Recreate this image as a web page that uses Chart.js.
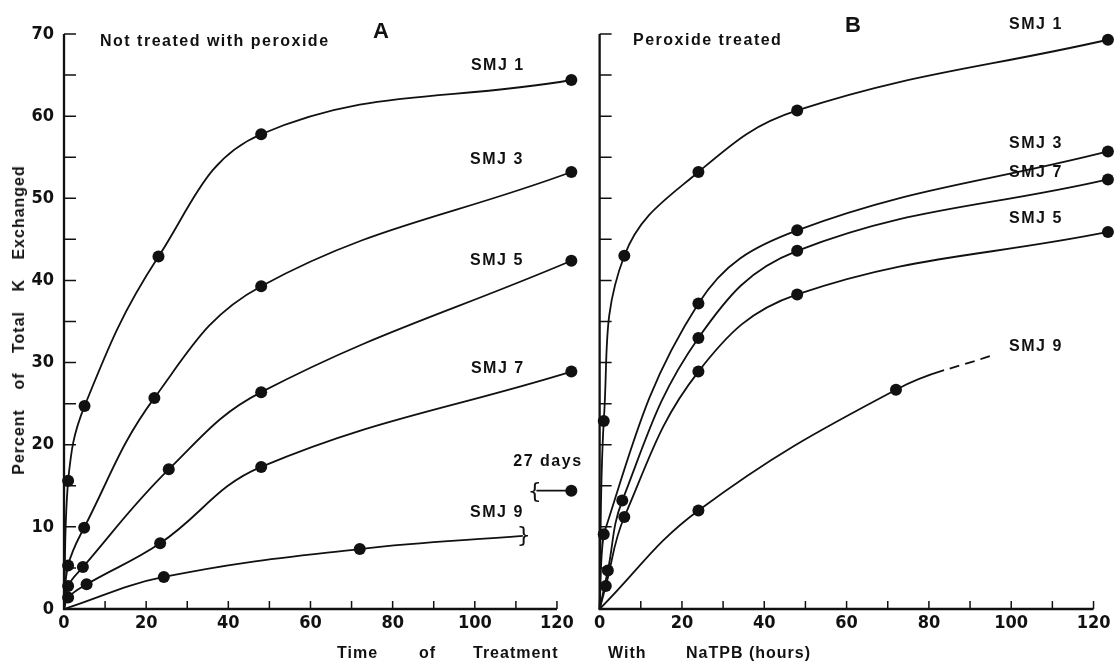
<!DOCTYPE html>
<html>
<head>
<meta charset="utf-8">
<script src="https://cdn.jsdelivr.net/npm/chart.js@4.4.1/dist/chart.umd.min.js"></script>
<style>
  html, body { margin: 0; padding: 0; background: #fff; }
  #page { position: relative; width: 1116px; height: 665px; overflow: hidden;
          font-family: 'Liberation Sans', Arial, sans-serif; color: #111; }
  .box { position: absolute; top: 0; height: 665px; }
  #boxA { left: 0; width: 590px; }
  #boxB { left: 590px; width: 526px; }
  .txt { position: absolute; white-space: pre; line-height: 1; transform: translateY(-50%); }
  .panel { font-size: 22px; font-weight: bold; }
  .sub { font-size: 16px; font-weight: 600; letter-spacing: 1.5px; }
  .xt { font-size: 16px; font-weight: bold; letter-spacing: 1px; }
  #ytitle { position: absolute; left: 19px; top: 320px; white-space: pre; line-height: 1;
            font-size: 16px; font-weight: bold; letter-spacing: 1px; word-spacing: 14px;
            transform: translate(-50%, -50%) rotate(-90deg); }
</style>
</head>
<body>
<div id="page">
  <div class="box" id="boxA"><canvas id="chartA"></canvas></div>
  <div class="box" id="boxB"><canvas id="chartB"></canvas></div>

  <div class="txt panel" style="left:373px;top:31px;">A</div>
  <div class="txt panel" style="left:845px;top:25px;">B</div>
  <div class="txt sub" style="left:100px;top:41px;">Not treated with peroxide</div>
  <div class="txt sub" style="left:633px;top:40px;">Peroxide treated</div>

  <div class="txt xt" style="left:337px;top:653px;">Time</div>
  <div class="txt xt" style="left:419px;top:653px;">of</div>
  <div class="txt xt" style="left:473px;top:653px;">Treatment</div>
  <div class="txt xt" style="left:608px;top:653px;">With</div>
  <div class="txt xt" style="left:686px;top:653px;">NaTPB (hours)</div>

  <div id="ytitle">Percent of Total K Exchanged</div>
</div>

<script>
const INK = '#111';

// axis ticks
const xLabels = [0, 20, 40, 60, 80, 100, 120];
const xMarks = [0, 10, 20, 30, 40, 50, 60, 70, 80, 90, 100, 110, 120];
const yLabels = [0, 10, 20, 30, 40, 50, 60, 70];
const yMarks = [0, 5, 10, 15, 20, 25, 30, 35, 40, 45, 50, 55, 60, 65, 70];

// A: not treated with peroxide (hours, percent of total K exchanged)
const hoursA1 = [0, 1, 5, 23, 48, 123.5];
const pctA1 = [0, 15.6, 24.7, 42.9, 57.8, 64.4];
const hoursA3 = [0, 1, 4.9, 22, 48, 123.5];
const pctA3 = [0, 5.3, 9.9, 25.7, 39.3, 53.2];
const hoursA5 = [0, 1, 4.6, 25.5, 48, 123.5];
const pctA5 = [0, 2.8, 5.1, 17.0, 26.4, 42.4];
const hoursA7 = [0, 1, 5.5, 23.4, 48, 123.5];
const pctA7 = [0, 1.4, 3.0, 8.0, 17.3, 28.9];
const hoursA9 = [0, 24.3, 72, 111.7];
const pctA9 = [0, 3.9, 7.3, 8.9];
const hoursA9late = [115, 123.5];   // 27 days
const pctA9late = [14.4, 14.4];

// B: peroxide treated
const hoursB1 = [0, 1, 6, 24, 48, 123.5];
const pctB1 = [0, 22.9, 43.0, 53.2, 60.7, 69.3];
const hoursB3 = [0, 1, 24, 48, 123.5];
const pctB3 = [0, 9.1, 37.2, 46.1, 55.7];
const hoursB7 = [0, 2, 5.5, 24, 48, 123.5];
const pctB7 = [0, 4.7, 13.2, 33.0, 43.6, 52.3];
const hoursB5 = [0, 1.5, 6, 24, 48, 123.5];
const pctB5 = [0, 2.8, 11.2, 28.9, 38.3, 45.9];
const hoursB9 = [0, 24, 72, 95.4];
const pctB9 = [0, 12.0, 26.7, 30.9];

// curve labels, placed in data coordinates
const notesA = [
  { text: 'SMJ 1', x: 105.6, y: 66.2 },
  { text: 'SMJ 3', x: 105.4, y: 54.7 },
  { text: 'SMJ 5', x: 105.4, y: 42.4 },
  { text: 'SMJ 7', x: 105.6, y: 29.3 },
  { text: 'SMJ 9', x: 105.4, y: 11.7 },
  { text: '27 days', x: 117.8, y: 17.9 },
  { text: '{', x: 114.6, y: 14.2, brace: true },
  { text: '}', x: 111.9, y: 8.8, brace: true },
];
const notesB = [
  { text: 'SMJ 1', x: 106, y: 71.2 },
  { text: 'SMJ 3', x: 106, y: 56.7 },
  { text: 'SMJ 7', x: 106, y: 53.1 },
  { text: 'SMJ 5', x: 106, y: 47.5 },
  { text: 'SMJ 9', x: 106, y: 31.9 },
];

function curve(label, xs, ys, bare) {
  const noMark = bare || [0];
  return {
    label: label,
    data: xs.map((x, i) => ({ x: x, y: ys[i] })),
    borderColor: INK,
    backgroundColor: INK,
    borderWidth: 1.8,
    tension: 0.4,
    pointRadius: xs.map((x, i) => (noMark.includes(i) ? 0 : 6)),
    pointBorderWidth: 0,
    clip: false,
  };
}

// inward tick marks and the two axis lines
const axesPlugin = {
  id: 'axesPlugin',
  afterDraw(chart) {
    const { ctx, scales: { x, y } } = chart;
    const x0 = x.getPixelForValue(0);
    const y0 = y.getPixelForValue(0);
    ctx.save();
    ctx.strokeStyle = INK;
    ctx.lineWidth = 1.5;
    ctx.beginPath();
    xMarks.forEach((v) => {
      const px = x.getPixelForValue(v);
      ctx.moveTo(px, y0);
      ctx.lineTo(px, y0 - 8);
    });
    yMarks.forEach((v) => {
      const py = y.getPixelForValue(v);
      ctx.moveTo(x0, py);
      ctx.lineTo(x0 + 12, py);
    });
    ctx.stroke();
    ctx.lineWidth = 2.3;
    ctx.beginPath();
    ctx.moveTo(x0, y.getPixelForValue(70));
    ctx.lineTo(x0, y0);
    ctx.lineTo(x.getPixelForValue(120), y0);
    ctx.stroke();
    ctx.restore();
  },
};

const notesPlugin = {
  id: 'notesPlugin',
  afterDatasetsDraw(chart, args, opts) {
    const { ctx, scales: { x, y } } = chart;
    ctx.save();
    ctx.fillStyle = INK;
    ctx.textAlign = 'center';
    ctx.textBaseline = 'middle';
    (opts.items || []).forEach((n) => {
      if (n.brace) {
        ctx.font = "22px 'DejaVu Sans', sans-serif";
        ctx.letterSpacing = '0px';
      } else {
        ctx.font = "bold 16px 'Liberation Sans', Arial, sans-serif";
        ctx.letterSpacing = '1.5px';
      }
      ctx.fillText(n.text, x.getPixelForValue(n.x), y.getPixelForValue(n.y));
    });
    ctx.restore();
  },
};

const tickFont = { family: "'Liberation Sans Narrow', 'DejaVu Sans Condensed', 'Liberation Sans', sans-serif", size: 18, weight: 'bold' };

function makeChart(id, datasets, notes, withYLabels, yWidth, padRight) {
  return new Chart(document.getElementById(id), {
    type: 'line',
    data: { datasets: datasets },
    plugins: [axesPlugin, notesPlugin],
    options: {
      responsive: true,
      maintainAspectRatio: false,
      animation: false,
      events: [],
      layout: { padding: { top: 34, right: padRight, bottom: 0, left: 0 } },
      plugins: {
        legend: { display: false },
        tooltip: { enabled: false },
        notesPlugin: { items: notes },
      },
      scales: {
        x: {
          type: 'linear',
          min: 0,
          max: 124,
          grid: { display: false, drawTicks: false },
          border: { display: false },
          afterBuildTicks: (axis) => { axis.ticks = xLabels.map((v) => ({ value: v })); },
          afterFit: (axis) => { axis.height = 56; },
          ticks: { color: INK, padding: 4, autoSkip: false, maxRotation: 0, font: tickFont },
        },
        y: {
          type: 'linear',
          min: 0,
          max: 70,
          grid: { display: false, drawTicks: false },
          border: { display: false },
          afterBuildTicks: (axis) => { axis.ticks = yLabels.map((v) => ({ value: v })); },
          afterFit: (axis) => { axis.width = yWidth; },
          ticks: { display: withYLabels, color: INK, padding: 10, font: tickFont },
        },
      },
    },
  });
}

makeChart('chartA', [
  curve('SMJ 1', hoursA1, pctA1),
  curve('SMJ 3', hoursA3, pctA3),
  curve('SMJ 5', hoursA5, pctA5),
  curve('SMJ 7', hoursA7, pctA7),
  curve('SMJ 9', hoursA9, pctA9, [0, 3]),
  curve('SMJ 9, 27 days', hoursA9late, pctA9late),
], notesA, true, 64, 16.6);

const smj9B = curve('SMJ 9', hoursB9, pctB9, [0, 3]);
smj9B.segment = {
  borderDash: (ctx) => (ctx.p0.parsed.x >= 72 ? [52, 6, 10, 6, 10, 6, 10, 60] : undefined),
};

makeChart('chartB', [
  curve('SMJ 1', hoursB1, pctB1),
  curve('SMJ 3', hoursB3, pctB3),
  curve('SMJ 7', hoursB7, pctB7),
  curve('SMJ 5', hoursB5, pctB5),
  smj9B,
], notesB, false, 7, 2.3);
</script>
</body>
</html>
